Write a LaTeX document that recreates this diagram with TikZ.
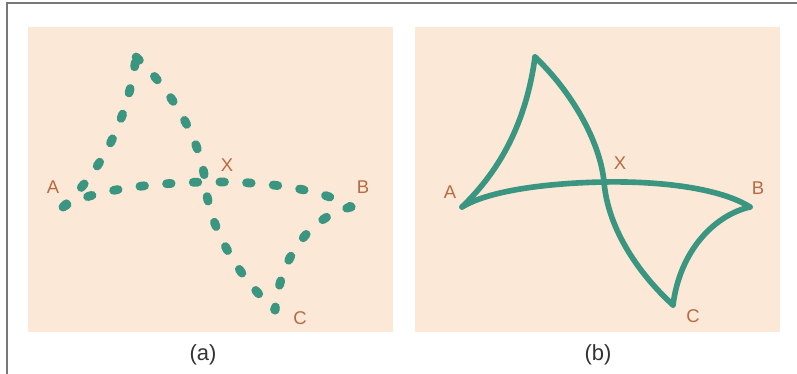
\documentclass[tikz,border=0pt]{standalone}
\usepackage{fontspec}
\setmainfont{Liberation Sans}
\usepackage{xcolor}
\usetikzlibrary{calc}
\definecolor{panelpeach}{RGB}{252,232,214}
\definecolor{curveteal}{RGB}{58,150,128}
\definecolor{labelbrown}{RGB}{184,106,66}
\definecolor{framegray}{RGB}{120,120,120}
\begin{document}
\begin{tikzpicture}[x=0.02cm,y=-0.02cm,
  vlabel/.style={text=labelbrown,font=\fontsize{10.5}{12}\selectfont,inner sep=0pt},
  caption/.style={text=black!80,font=\fontsize{12.5}{15}\selectfont,inner sep=0pt},
  solidpath/.style={draw=curveteal,line width=3.2pt,line cap=round,line join=miter},
  dotpath/.style={draw=curveteal,line width=5pt,line cap=round,dash pattern=on 2.6pt off 12.6pt}]
\fill[white] (0,0) rectangle (797,374);
\useasboundingbox (0,0) rectangle (797,374);
\draw[framegray,line width=0.9pt] (7,374) -- (7,3) -- (797,3);
\fill[panelpeach] (28,27) rectangle (393,332);
\fill[panelpeach] (415,27) rectangle (780,332);
% (a) dotted version
\begin{scope}[xshift=-7.98cm]
\coordinate (aA) at (462,207);
\coordinate (aT) at (535,57);
\coordinate (aX) at (604,182);
\coordinate (aB) at (750,207);
\coordinate (aC) at (674,310);
\draw[dotpath] (aA) .. controls (495,175) and (525,130) .. (aT);
\draw[dotpath] (aT) .. controls (570,90) and (600,140) .. (aX) .. controls (608,230) and (640,280) .. (aC);
\draw[dotpath] (aA) .. controls (490,190) and (550,183) .. (aX) .. controls (660,181) and (720,188) .. (aB);
\draw[dotpath] (aB) .. controls (715,215) and (680,250) .. (aC);
\end{scope}
\node[vlabel] (aLA) at (53,187) {A};
\node[vlabel] (aLX) at (227,165) {X};
\node[vlabel] (aLB) at (363,187) {B};
\node[vlabel] (aLC) at (300,318) {C};
\node[caption] (capa) at (203,355) {(a)};
% (b) solid version
\coordinate (bA) at (462,207);
\coordinate (bT) at (535,57);
\coordinate (bX) at (604,182);
\coordinate (bB) at (750,207);
\coordinate (bC) at (673,305);
\draw[solidpath] (bA) .. controls (495,175) and (525,130) .. (bT);
\draw[solidpath] (bT) .. controls (570,90) and (600,140) .. (bX) .. controls (608,230) and (640,275) .. (bC);
\draw[solidpath] (bA) .. controls (490,190) and (550,183) .. (bX) .. controls (660,181) and (720,188) .. (bB);
\draw[solidpath] (bB) .. controls (715,215) and (680,250) .. (bC);
\node[vlabel] (bLA) at (450,192) {A};
\node[vlabel] (bLX) at (620,163) {X};
\node[vlabel] (bLB) at (758,188) {B};
\node[vlabel] (bLC) at (693,316) {C};
\node[caption] (capb) at (598,355) {(b)};
\end{tikzpicture}
\end{document}
